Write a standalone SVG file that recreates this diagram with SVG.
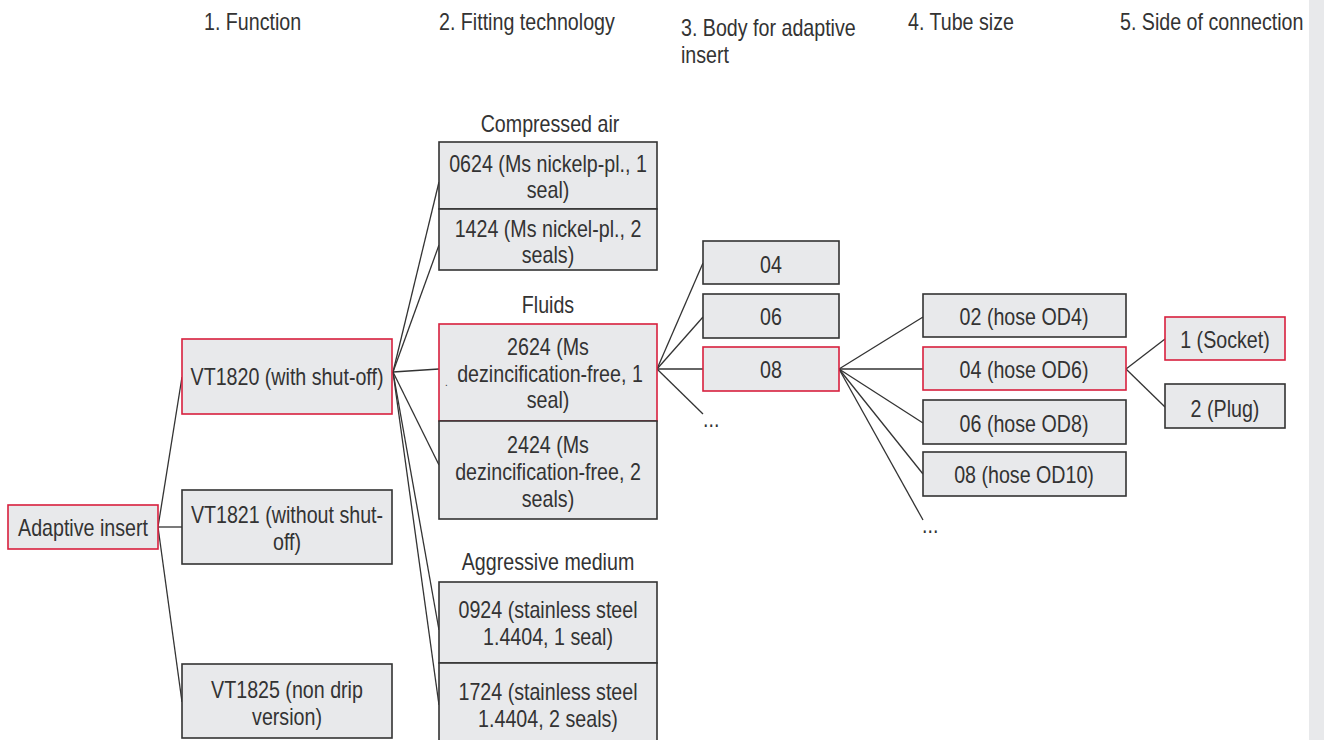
<svg xmlns="http://www.w3.org/2000/svg" width="1324" height="740" viewBox="0 0 1324 740">
<style>
text{font-family:"Liberation Sans",Arial,sans-serif;font-size:23px;fill:#333;}
.c{text-anchor:middle;}
.box{fill:#e8e9eb;stroke:#333;stroke-width:1.6;}
.sel{fill:#e8e9eb;stroke:#d8203e;stroke-width:1.6;}
.ln{stroke:#333;stroke-width:1.3;fill:none;}
</style>
<rect x="1309" y="0" width="15" height="740" fill="#e8e9eb"/>
<g id="headers">
<text transform="translate(204 30) scale(.855 1)">1. Function</text>
<text transform="translate(439 30) scale(.855 1)">2. Fitting technology</text>
<text transform="translate(681 36) scale(.855 1)">3. Body for adaptive</text>
<text transform="translate(681 63) scale(.855 1)">insert</text>
<text transform="translate(908 30) scale(.855 1)">4. Tube size</text>
<text transform="translate(1120 30) scale(.855 1)">5. Side of connection</text>
</g>
<g id="connectors">
<line class="ln" x1="158" y1="527" x2="182" y2="377"/>
<line class="ln" x1="158" y1="527" x2="182" y2="527"/>
<line class="ln" x1="158" y1="527" x2="182" y2="702"/>
<line class="ln" x1="393" y1="372" x2="439" y2="182"/>
<line class="ln" x1="393" y1="372" x2="439" y2="245"/>
<line class="ln" x1="393" y1="372" x2="439" y2="369"/>
<line class="ln" x1="393" y1="372" x2="439" y2="465"/>
<line class="ln" x1="393" y1="372" x2="439" y2="630"/>
<line class="ln" x1="393" y1="372" x2="439" y2="705"/>
<line class="ln" x1="657" y1="369" x2="703" y2="263"/>
<line class="ln" x1="657" y1="369" x2="703" y2="317"/>
<line class="ln" x1="657" y1="369" x2="703" y2="369"/>
<line class="ln" x1="657" y1="369" x2="703" y2="414"/>
<line class="ln" x1="839" y1="369" x2="923" y2="317"/>
<line class="ln" x1="839" y1="369" x2="923" y2="369"/>
<line class="ln" x1="839" y1="369" x2="923" y2="423"/>
<line class="ln" x1="839" y1="369" x2="923" y2="474"/>
<line class="ln" x1="839" y1="369" x2="923" y2="520"/>
<line class="ln" x1="1126" y1="369" x2="1165" y2="339"/>
<line class="ln" x1="1126" y1="369" x2="1165" y2="407"/>
</g>
<g id="n-adaptive"><rect class="sel" x="8" y="505" width="150" height="44"/><text class="c" transform="translate(83 536) scale(.855 1)">Adaptive insert</text></g>
<g id="n-vt1820"><rect class="sel" x="182" y="339" width="210" height="75"/><text class="c" transform="translate(287 385) scale(.855 1)">VT1820 (with shut-off)</text></g>
<g id="n-vt1821"><rect class="box" x="182" y="490" width="210" height="74"/><text class="c" transform="translate(287 523) scale(.855 1)">VT1821 (without shut-</text><text class="c" transform="translate(287 550) scale(.855 1)">off)</text></g>
<g id="n-vt1825"><rect class="box" x="182" y="664" width="210" height="74"/><text class="c" transform="translate(287 698) scale(.855 1)">VT1825 (non drip</text><text class="c" transform="translate(287 725) scale(.855 1)">version)</text></g>
<g id="lbl-air"><text class="c" transform="translate(550 132) scale(.855 1)">Compressed air</text></g>
<g id="n-0624"><rect class="box" x="439" y="142" width="218" height="67"/><text class="c" transform="translate(548 172) scale(.855 1)">0624 (Ms nickelp-pl., 1</text><text class="c" transform="translate(548 198) scale(.855 1)">seal)</text></g>
<g id="n-1424"><rect class="box" x="439" y="209" width="218" height="61"/><text class="c" transform="translate(548 237) scale(.855 1)">1424 (Ms nickel-pl., 2</text><text class="c" transform="translate(548 263) scale(.855 1)">seals)</text></g>
<g id="lbl-fluids"><text class="c" transform="translate(548 313) scale(.855 1)">Fluids</text></g>
<g id="n-2624"><rect class="sel" x="439" y="324" width="218" height="97"/><text class="c" transform="translate(548 355) scale(.855 1)">2624 (Ms</text><text class="c" transform="translate(550 382) scale(.855 1)">dezincification-free, 1</text><text class="c" transform="translate(548 408) scale(.855 1)">seal)</text><text x="445" y="386" style="font-size:10px">.</text></g>
<g id="n-2424"><rect class="box" x="439" y="421" width="218" height="98"/><text class="c" transform="translate(548 453) scale(.855 1)">2424 (Ms</text><text class="c" transform="translate(548 480) scale(.855 1)">dezincification-free, 2</text><text class="c" transform="translate(548 507) scale(.855 1)">seals)</text></g>
<g id="lbl-aggr"><text class="c" transform="translate(548 570) scale(.855 1)">Aggressive medium</text></g>
<g id="n-0924"><rect class="box" x="439" y="582" width="218" height="81"/><text class="c" transform="translate(548 618) scale(.855 1)">0924 (stainless steel</text><text class="c" transform="translate(548 645) scale(.855 1)">1.4404, 1 seal)</text></g>
<g id="n-1724"><rect class="box" x="439" y="663" width="218" height="80"/><text class="c" transform="translate(548 700) scale(.855 1)">1724 (stainless steel</text><text class="c" transform="translate(548 727) scale(.855 1)">1.4404, 2 seals)</text></g>
<g id="n-b04"><rect class="box" x="703" y="241" width="136" height="43"/><text class="c" transform="translate(771 273) scale(.855 1)">04</text></g>
<g id="n-b06"><rect class="box" x="703" y="294" width="136" height="44"/><text class="c" transform="translate(771 325) scale(.855 1)">06</text></g>
<g id="n-b08"><rect class="sel" x="703" y="347" width="136" height="44"/><text class="c" transform="translate(771 378) scale(.855 1)">08</text></g>
<g id="n-bmore"><text transform="translate(703 427) scale(.855 1)">...</text></g>
<g id="n-t02"><rect class="box" x="923" y="294" width="203" height="43"/><text class="c" transform="translate(1024 325) scale(.855 1)">02 (hose OD4)</text></g>
<g id="n-t04"><rect class="sel" x="923" y="347" width="203" height="43"/><text class="c" transform="translate(1024 378) scale(.855 1)">04 (hose OD6)</text></g>
<g id="n-t06"><rect class="box" x="923" y="400" width="203" height="44"/><text class="c" transform="translate(1024 432) scale(.855 1)">06 (hose OD8)</text></g>
<g id="n-t08"><rect class="box" x="923" y="452" width="203" height="44"/><text class="c" transform="translate(1024 483) scale(.855 1)">08 (hose OD10)</text></g>
<g id="n-tmore"><text transform="translate(922 533) scale(.855 1)">...</text></g>
<g id="n-socket"><rect class="sel" x="1165" y="317" width="120" height="43"/><text class="c" transform="translate(1225 348) scale(.855 1)">1 (Socket)</text></g>
<g id="n-plug"><rect class="box" x="1165" y="384" width="120" height="44"/><text class="c" transform="translate(1225 417) scale(.855 1)">2 (Plug)</text></g>
</svg>
